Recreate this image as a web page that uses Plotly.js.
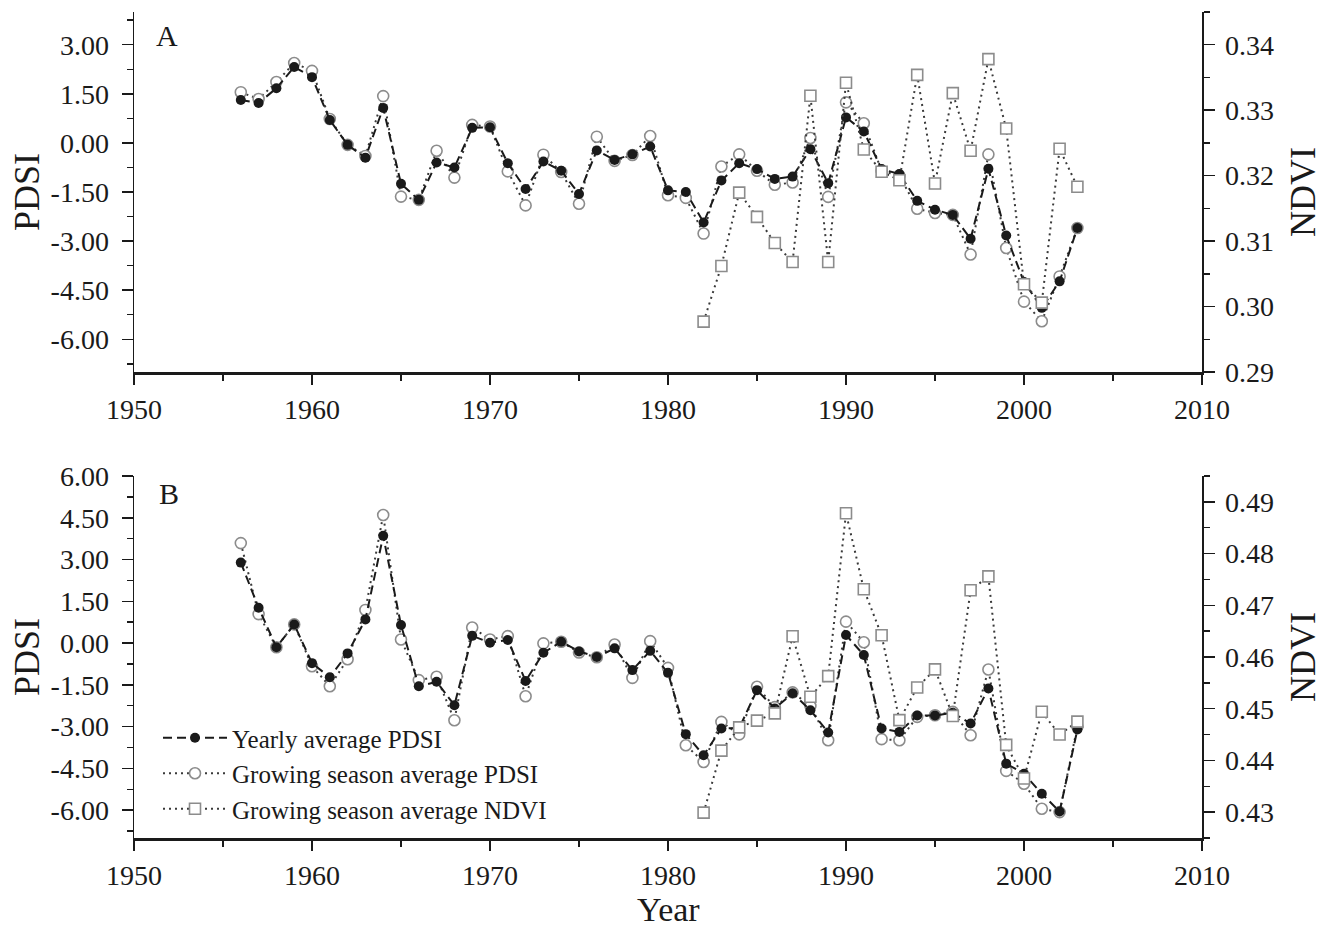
<!DOCTYPE html>
<html>
<head>
<meta charset="utf-8">
<script src="https://cdn.plot.ly/plotly-3.0.1.min.js"></script>
<style>html,body{margin:0;padding:0;background:#fff;}#chart{width:1325px;height:927px;}</style>
</head>
<body>
<div id="chart"></div>
<script>
// ---------- data ----------
const years = [1956,1957,1958,1959,1960,1961,1962,1963,1964,1965,1966,1967,1968,1969,1970,1971,1972,1973,1974,1975,1976,1977,1978,1979,1980,1981,1982,1983,1984,1985,1986,1987,1988,1989,1990,1991,1992,1993,1994,1995,1996,1997,1998,1999,2000,2001,2002,2003];
const ndviYears = [1982,1983,1984,1985,1986,1987,1988,1989,1990,1991,1992,1993,1994,1995,1996,1997,1998,1999,2000,2001,2002,2003];

// Panel A
const aYearlyPDSI = [1.31,1.22,1.67,2.32,2.01,0.70,-0.06,-0.45,1.07,-1.25,-1.74,-0.60,-0.75,0.46,0.48,-0.62,-1.41,-0.57,-0.85,-1.56,-0.23,-0.52,-0.35,-0.11,-1.45,-1.50,-2.43,-1.15,-0.62,-0.80,-1.10,-1.03,-0.19,-1.23,0.78,0.35,-0.80,-0.95,-1.77,-2.04,-2.20,-2.93,-0.79,-2.83,-4.25,-5.04,-4.23,-2.60];
const aGrowPDSI   = [1.55,1.34,1.86,2.44,2.20,0.73,-0.06,-0.40,1.43,-1.64,-1.74,-0.24,-1.06,0.55,0.50,-0.87,-1.91,-0.36,-0.89,-1.86,0.19,-0.55,-0.37,0.21,-1.60,-1.68,-2.77,-0.72,-0.35,-0.85,-1.28,-1.21,0.15,-1.65,1.24,0.60,-0.85,-1.00,-2.01,-2.14,-2.20,-3.41,-0.35,-3.21,-4.85,-5.45,-4.08,-2.60];
const aGrowNDVI   = [0.2977,0.3062,0.3174,0.3137,0.3097,0.3068,0.3322,0.3068,0.3342,0.3240,0.3206,0.3193,0.3354,0.3188,0.3326,0.3238,0.3378,0.3272,0.3034,0.3006,0.3241,0.3183];

// Panel B
const bYearlyPDSI = [2.89,1.27,-0.15,0.67,-0.72,-1.23,-0.37,0.85,3.85,0.65,-1.55,-1.39,-2.23,0.26,0.01,0.11,-1.36,-0.35,0.05,-0.30,-0.50,-0.19,-0.97,-0.28,-1.07,-3.27,-4.03,-3.07,-3.05,-1.69,-2.35,-1.80,-2.41,-3.21,0.29,-0.43,-3.07,-3.19,-2.60,-2.60,-2.50,-2.89,-1.63,-4.33,-4.69,-5.41,-6.05,-3.10];
const bGrowPDSI   = [3.59,1.04,-0.15,0.67,-0.83,-1.55,-0.58,1.19,4.60,0.13,-1.33,-1.21,-2.77,0.56,0.13,0.25,-1.91,-0.01,0.05,-0.34,-0.51,-0.05,-1.25,0.07,-0.89,-3.67,-4.27,-2.83,-3.28,-1.57,-2.30,-1.77,-2.26,-3.49,0.77,0.03,-3.45,-3.49,-2.65,-2.59,-2.47,-3.31,-0.95,-4.59,-5.05,-5.95,-6.07,-3.00];
const bGrowNDVI   = [0.4299,0.4419,0.4464,0.4477,0.4491,0.4640,0.4523,0.4563,0.4878,0.4731,0.4642,0.4478,0.4541,0.4576,0.4486,0.4729,0.4756,0.4430,0.4365,0.4494,0.4450,0.4475];

// tick labels
const xTickVals = [1950,1960,1970,1980,1990,2000,2010];
const xTickText = ['1950','1960','1970','1980','1990','2000','2010'];
const aPdsiTickVals = [3,1.5,0,-1.5,-3,-4.5,-6];
const aPdsiTickText = ['3.00','1.50','0.00','-1.50','-3.00','-4.50','-6.00'];
const bPdsiTickVals = [6,4.5,3,1.5,0,-1.5,-3,-4.5,-6];
const bPdsiTickText = ['6.00','4.50','3.00','1.50','0.00','-1.50','-3.00','-4.50','-6.00'];
const aNdviTickVals = [0.29,0.30,0.31,0.32,0.33,0.34];
const aNdviTickText = ['0.29','0.30','0.31','0.32','0.33','0.34'];
const bNdviTickVals = [0.43,0.44,0.45,0.46,0.47,0.48,0.49];
const bNdviTickText = ['0.43','0.44','0.45','0.46','0.47','0.48','0.49'];

const names = ['Yearly average PDSI','Growing season average PDSI','Growing season average NDVI'];

// ---------- styles ----------
const FONT = 'Liberation Serif, Times New Roman, serif';
const INK = '#1a1a1a';
const GRAY = '#8c8c8c';
const yearlyStyle = {mode:'lines+markers', line:{color:INK, width:2, dash:'9px,5px'}, marker:{symbol:'circle', size:10, color:INK}};
const growStyle = {mode:'lines+markers', line:{color:'#3a3a3a', width:2, dash:'2px,4px'}, marker:{symbol:'circle', size:11, color:'#fff', line:{width:1.6, color:GRAY}}};
const ndviStyle = {mode:'lines+markers', line:{color:'#3a3a3a', width:2, dash:'2px,4px'}, marker:{symbol:'square', size:11, color:'#fff', line:{width:1.6, color:GRAY}}};

function tr(x, y, xa, ya, style, name, showlegend) {
  return Object.assign({x:x, y:y, xaxis:xa, yaxis:ya, name:name, showlegend:showlegend, hoverinfo:'x+y'}, JSON.parse(JSON.stringify(style)));
}

const data = [
  tr(ndviYears, aGrowNDVI, 'x', 'y2', ndviStyle, names[2], false),
  tr(years, aGrowPDSI, 'x', 'y', growStyle, names[1], false),
  tr(years, aYearlyPDSI, 'x', 'y', yearlyStyle, names[0], false),
  tr(ndviYears, bGrowNDVI, 'x2', 'y4', ndviStyle, names[2], true),
  tr(years, bGrowPDSI, 'x2', 'y3', growStyle, names[1], true),
  tr(years, bYearlyPDSI, 'x2', 'y3', yearlyStyle, names[0], true)
];

const W = 1325, H = 927;
const xd = [134/W, 1202/W];
const aDom = [1-372/H, 1-12/H];
const bDom = [1-838/H, 1-476/H];
const tickFont = {family:FONT, size:28, color:INK};
const titleFont = {family:FONT, size:36, color:INK};

function xAxis(anchor) {
  return {domain:xd, anchor:anchor, range:[1950,2010], tickmode:'array', tickvals:xTickVals, ticktext:xTickText,
    ticks:'outside', ticklen:10, tickwidth:1.5, tickcolor:INK, showline:true, linewidth:2.5, linecolor:INK,
    showgrid:false, zeroline:false, tickfont:tickFont, ticklabelstandoff:1,
    minor:{tickmode:'linear', tick0:1950, dtick:5, ticks:'outside', ticklen:6, tickwidth:1.5, tickcolor:INK, showgrid:false}};
}
function yLeft(dom, range, tv, tt, anchor) {
  return {domain:dom, anchor:anchor, range:range, tickmode:'array', tickvals:tv, ticktext:tt,
    ticks:'outside', ticklen:11, tickwidth:1.5, tickcolor:INK, showline:true, linewidth:1.5, linecolor:INK,
    showgrid:false, zeroline:false, tickfont:tickFont, ticklabelstandoff:7, title:{text:'PDSI', font:titleFont, standoff:0},
    minor:{tickmode:'linear', tick0:0, dtick:0.75, ticks:'outside', ticklen:6, tickwidth:1.5, tickcolor:INK, showgrid:false}};
}
function yRight(overlay, range, tv, tt, anchor) {
  return {overlaying:overlay, side:'right', anchor:anchor, range:range, tickmode:'array', tickvals:tv, ticktext:tt,
    ticks:'outside', ticklen:11, tickwidth:1.5, tickcolor:INK, showline:true, linewidth:1.5, linecolor:INK,
    showgrid:false, zeroline:false, tickfont:tickFont, ticklabelstandoff:5, title:{text:'NDVI', font:titleFont, standoff:16},
    minor:{tickmode:'linear', tick0:0, dtick:0.005, ticks:'outside', ticklen:6, tickwidth:1.5, tickcolor:INK, showgrid:false}};
}

const layout = {
  width:W, height:H, margin:{l:0, r:0, t:0, b:0}, paper_bgcolor:'#fff', plot_bgcolor:'#fff',
  font:{family:FONT, color:INK},
  xaxis: xAxis('y'),
  yaxis: yLeft(aDom, [-7,4], aPdsiTickVals, aPdsiTickText, 'x'),
  yaxis2: yRight('y', [0.29,0.345], aNdviTickVals, aNdviTickText, 'x'),
  xaxis2: xAxis('y3'),
  yaxis3: yLeft(bDom, [-7,6], bPdsiTickVals, bPdsiTickText, 'x2'),
  yaxis4: yRight('y3', [0.425,0.495], bNdviTickVals, bNdviTickText, 'x2'),
  legend:{x:158/W, y:1-715/H, xanchor:'left', yanchor:'top', bgcolor:'rgba(0,0,0,0)', borderwidth:0,
    font:{family:FONT, size:25, color:INK}, itemwidth:64, traceorder:'reversed', tracegroupgap:0},
  showlegend:true,
  annotations:[
    {xref:'paper', yref:'paper', x:154/W, y:1-36/H, xanchor:'left', yanchor:'middle', text:'A', showarrow:false, font:{family:FONT, size:30, color:INK}},
    {xref:'paper', yref:'paper', x:157/W, y:1-493/H, xanchor:'left', yanchor:'middle', text:'B', showarrow:false, font:{family:FONT, size:30, color:INK}},
    {xref:'paper', yref:'paper', x:(134+1202)/2/W, y:1-909/H, xanchor:'center', yanchor:'middle', text:'Year', showarrow:false, font:{family:FONT, size:34, color:INK}}
  ]
};

Plotly.newPlot('chart', data, layout, {staticPlot:true, displayModeBar:false});
</script>
</body>
</html>
